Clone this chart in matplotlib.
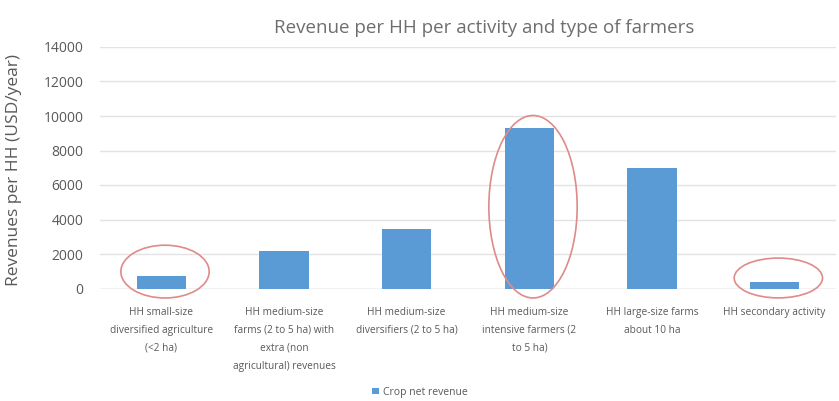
import matplotlib
matplotlib.use("Agg")
import matplotlib.pyplot as plt
from matplotlib.patches import Ellipse, Patch

plt.rcParams['font.family'] = ['Open Sans', 'DejaVu Sans']

categories = [
    "HH small-size\ndiversified agriculture\n(<2 ha)",
    "HH medium-size\nfarms (2 to 5 ha) with\nextra (non\nagricultural) revenues",
    "HH medium-size\ndiversifiers (2 to 5 ha)",
    "HH medium-size\nintensive farmers (2\nto 5 ha)",
    "HH large-size farms\nabout 10 ha",
    "HH secondary activity",
]
crop_net_revenue = [750, 2200, 3450, 9300, 7000, 380]
yticks = [0, 2000, 4000, 6000, 8000, 10000, 12000, 14000]
highlighted = [0, 3, 5]

BAR = "#5B9BD5"
TXT = "#595959"
GRID = "#E3E3E3"
RED = "#E08A8A"

fig = plt.figure(figsize=(8.39, 4.01), dpi=100)
ax = fig.add_axes([100/839, 1 - 288.5/401, 736/839, (288.5 - 47)/401])

x = list(range(len(categories)))
ax.bar(x, crop_net_revenue, width=0.4, color=BAR, zorder=3)

ax.set_ylim(0, 14000)
ax.set_xlim(-0.5, len(categories) - 0.5)
ax.set_yticks(yticks)
ax.set_yticklabels([str(v) for v in yticks], fontsize=10, color=TXT)
ax.set_xticks(x)
ax.set_xticklabels(categories, fontsize=7.3, color=TXT, linespacing=1.9, va='top')
ax.tick_params(axis='both', length=0)
ax.tick_params(axis='y', pad=12)
ax.tick_params(axis='x', pad=13)
ax.grid(axis='y', color=GRID, linewidth=1, zorder=0)
for s in ax.spines.values():
    s.set_visible(False)
ax.axhline(0, color="#D9D9D9", linewidth=1, zorder=2)

ax.set_ylabel("Revenues per HH (USD/year)", fontsize=12.5, color=TXT, labelpad=2)
ax.yaxis.set_label_coords(-0.106, 0.49)

fig.text(484/839, 1 - 28/401, "Revenue per HH per activity and type of farmers",
         fontsize=13.5, color="#6E6E6E", ha='center', va='center')

# highlight ellipses (centre value, height in data units)
ell_specs = {0: (980, 3060), 3: (4740, 10580), 5: (610, 2310)}
for i in highlighted:
    cy, h = ell_specs[i]
    e = Ellipse((i + 0.03, cy), width=0.72, height=h, fill=False,
                edgecolor=RED, linewidth=1.2, zorder=4, clip_on=False)
    ax.add_patch(e)

handle = Patch(facecolor=BAR, edgecolor='none')
fig.legend([handle], ["Crop net revenue"], loc='center',
           bbox_to_anchor=(420/839, 1 - 392/401), frameon=False,
           fontsize=7.5, handlelength=0.6, handleheight=0.6, handletextpad=0.4,
           labelcolor=TXT)

fig.savefig("out.png", dpi=100)
